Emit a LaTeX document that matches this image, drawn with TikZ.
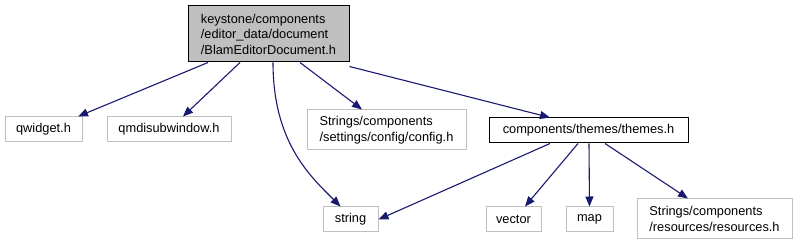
\documentclass[tikz,border=0pt]{standalone}
\usepackage{fontspec}
\setmainfont{Liberation Sans}
\usetikzlibrary{arrows.meta}
\definecolor{edgeblue}{HTML}{191970}
\definecolor{boxgrey}{HTML}{BFBFBF}
\tikzset{
  hbox/.style={draw=boxgrey, line width=1pt, rectangle, inner sep=0pt, font=\fontsize{12.8}{15.5}\selectfont, align=left},
  rootbox/.style={hbox, draw=black, fill=boxgrey},
  blackbox/.style={hbox, draw=black},
  dep/.style={draw=edgeblue, line width=1.1pt, -{Triangle[length=10pt,width=8pt]}, color=edgeblue}
}
\begin{document}
\begin{tikzpicture}[x=1pt,y=-1pt]
\useasboundingbox (0,0) rectangle (797,245);
\node[rootbox, minimum width=161pt, minimum height=56pt] (root) at (268.5,34) {keystone/components\\/editor\_data/document\\/BlamEditorDocument.h};
\node[hbox, minimum width=77pt, minimum height=25pt] (qwidget) at (43.5,129.5) {qwidget.h};
\node[hbox, minimum width=124pt, minimum height=25pt] (qmdi) at (169,129.5) {qmdisubwindow.h};
\node[hbox, minimum width=159pt, minimum height=40pt] (config) at (386.5,130) {Strings/components\\/settings/config/config.h};
\node[blackbox, minimum width=199pt, minimum height=25pt] (themes) at (588.5,130.5) {components/themes/themes.h};
\node[hbox, minimum width=55pt, minimum height=25pt] (string) at (350.5,219.5) {string};
\node[hbox, minimum width=55pt, minimum height=25pt] (vector) at (513.5,219.5) {vector};
\node[hbox, minimum width=47pt, minimum height=25pt] (map) at (589.5,219.5) {map};
\node[hbox, minimum width=155pt, minimum height=40pt] (res) at (714.5,219) {Strings/components\\/resources/resources.h};

\draw[dep] ([xshift=-60.5pt]root.south) -- ([xshift=34.5pt]qwidget.north);
\draw[dep] ([xshift=-28.5pt]root.south) -- ([xshift=14pt]qmdi.north);
\draw[dep] ([xshift=4.5pt]root.south) .. controls ([xshift=4.5pt,yshift=-80pt]root.south) and ([xshift=-40pt,yshift=30pt]string.north) .. ([xshift=-10pt]string.north);
\draw[dep] ([xshift=31.5pt]root.south) -- ([xshift=-24.5pt]config.north);
\draw[dep] ([yshift=-4pt]root.south east) -- ([xshift=-38.5pt]themes.north);
\draw[dep] ([xshift=-38.5pt]themes.south) -- (string.east);
\draw[dep] ([xshift=-10.5pt]themes.south) -- ([xshift=11.5pt]vector.north);
\draw[dep] ([xshift=0.5pt]themes.south) -- (map.north);
\draw[dep] ([xshift=16.5pt]themes.south) -- ([xshift=-26.5pt]res.north);
\end{tikzpicture}
\end{document}
